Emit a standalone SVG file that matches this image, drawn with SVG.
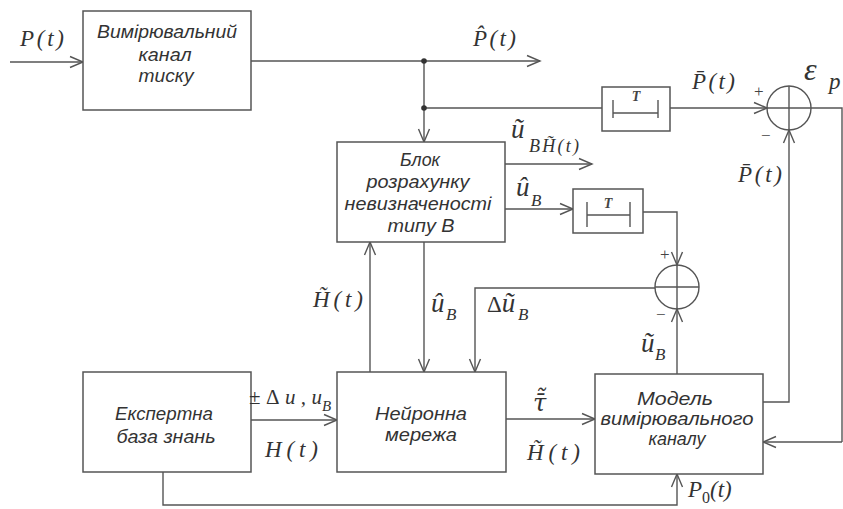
<svg xmlns="http://www.w3.org/2000/svg" width="843" height="509" viewBox="0 0 843 509">
<defs>
<style>
.box{fill:#fff;stroke:#555;stroke-width:1.5}
.ln{fill:none;stroke:#555;stroke-width:1.4}
.ar{marker-end:url(#a)}
.nt{font-family:"Liberation Sans",Arial,sans-serif;font-style:italic;font-size:18px;fill:#333;text-anchor:middle}
.m{font-family:"Liberation Serif","Times New Roman",serif;font-style:italic;font-size:23px;fill:#333}
.u{font-size:27px}
.sub{font-family:"Liberation Serif","Times New Roman",serif;font-style:italic;font-size:17px;fill:#333}
.up{font-style:normal}
.sg{font-family:"Liberation Serif","Times New Roman",serif;font-size:17px;fill:#444}
.dt{font-family:"Liberation Serif",serif;font-style:italic;font-weight:bold;font-size:14px;fill:#444;text-anchor:middle}
</style>
<marker id="a" markerUnits="userSpaceOnUse" markerWidth="14" markerHeight="12" refX="13" refY="5.5" orient="auto" overflow="visible">
<path d="M0,0 L13,5.5 L0,11" fill="none" stroke="#555" stroke-width="1.4"/>
</marker>
</defs>
<rect width="843" height="509" fill="#fff"/>

<g id="connectors">
<path class="ln ar" d="M10,62 H83"/>
<path class="ln ar" d="M251,61 H540"/>
<path class="ln" d="M424,61 V108 H602"/>
<path class="ln ar" d="M424,108 V142"/>
<path class="ln ar" d="M670,108 H767"/>
<path class="ln" d="M811,108 H842 V442"/>
<path class="ln ar" d="M842,442 H763"/>
<path class="ln ar" d="M763,402 H789 V130"/>
<path class="ln ar" d="M505,164 H592"/>
<path class="ln ar" d="M505,209 H573"/>
<path class="ln ar" d="M643,212 H677 V265"/>
<path class="ln ar" d="M677,374 V309"/>
<path class="ln ar" d="M655,288 H475 V372"/>
<path class="ln ar" d="M424,242 V372"/>
<path class="ln ar" d="M370,372 V242"/>
<path class="ln ar" d="M251,420 H337"/>
<path class="ln ar" d="M506,419 H595"/>
<path class="ln ar" d="M163,472 V505 H677 V474"/>
<circle cx="424" cy="61" r="2.8" fill="#333"/>
<circle cx="424" cy="108" r="2.8" fill="#333"/>
</g>

<g id="sum1">
<circle class="ln" cx="789" cy="108" r="22"/>
<path class="ln" d="M767,108 H811 M789,86 V130"/>
<text class="sg" x="754" y="97">+</text>
<text class="sg" x="761" y="141">−</text>
</g>

<g id="sum2">
<circle class="ln" cx="677" cy="287" r="22"/>
<path class="ln" d="M655,287 H699 M677,265 V309"/>
<text class="sg" x="660" y="260">+</text>
<text class="sg" x="656" y="320">−</text>
</g>

<g id="channel">
<rect class="box" x="83" y="11" width="168" height="99"/>
<text class="nt" x="167" y="38" textLength="140" lengthAdjust="spacingAndGlyphs">Вимірювальний</text>
<text class="nt" x="165" y="61" textLength="53" lengthAdjust="spacingAndGlyphs">канал</text>
<text class="nt" x="166" y="82" textLength="55" lengthAdjust="spacingAndGlyphs">тиску</text>
</g>

<g id="delay1">
<rect class="box" x="602" y="87" width="68" height="44"/>
<path class="ln" d="M613,100 V118 M658,100 V118 M613,113 H658"/>
<text class="dt" x="636" y="101">T</text>
</g>

<g id="delay2">
<rect class="box" x="573" y="189" width="70" height="44"/>
<path class="ln" d="M587,202 V227 M630,202 V227 M587,215 H630"/>
<text class="dt" x="608" y="208">T</text>
</g>

<g id="uncertainty">
<rect class="box" x="337" y="142" width="168" height="100"/>
<text class="nt" x="420" y="166" textLength="40" lengthAdjust="spacingAndGlyphs">Блок</text>
<text class="nt" x="418" y="188" textLength="103" lengthAdjust="spacingAndGlyphs">розрахунку</text>
<text class="nt" x="418" y="210" textLength="147" lengthAdjust="spacingAndGlyphs">невизначеності</text>
<text class="nt" x="421" y="232" textLength="67" lengthAdjust="spacingAndGlyphs">типу В</text>
</g>

<g id="expert">
<rect class="box" x="83" y="372" width="168" height="100"/>
<text class="nt" x="164" y="420" textLength="98" lengthAdjust="spacingAndGlyphs">Експертна</text>
<text class="nt" x="166" y="443" textLength="99" lengthAdjust="spacingAndGlyphs">база знань</text>
</g>

<g id="neural">
<rect class="box" x="337" y="372" width="169" height="100"/>
<text class="nt" x="421" y="420" textLength="92" lengthAdjust="spacingAndGlyphs">Нейронна</text>
<text class="nt" x="421" y="441" textLength="72" lengthAdjust="spacingAndGlyphs">мережа</text>
</g>

<g id="model">
<rect class="box" x="595" y="374" width="168" height="100"/>
<text class="nt" x="675" y="405" textLength="76" lengthAdjust="spacingAndGlyphs">Модель</text>
<text class="nt" x="677" y="425" textLength="153" lengthAdjust="spacingAndGlyphs">вимірювального</text>
<text class="nt" x="677" y="445" textLength="57" lengthAdjust="spacingAndGlyphs">каналу</text>
</g>

<g id="labels">
<text class="m" x="20" y="46" textLength="44">P(t)</text>
<text class="m" x="473" y="46" textLength="43">P̂(t)</text>
<text class="m" x="692" y="89" textLength="43">P̄(t)</text>
<text class="m" x="738" y="182" textLength="44">P̄(t)</text>
<text class="m" x="804" y="80" style="font-size:32px">ε</text>
<text class="m" x="829" y="89" style="font-size:23px">p</text>
<text class="m u" x="511" y="138">ũ</text>
<text class="sub" x="529" y="152" style="font-size:18px" textLength="50">BH̃(t)</text>
<text class="m u" x="516" y="196">û</text>
<text class="sub" x="531" y="206">B</text>
<text class="m" x="313" y="307" textLength="50">H̃(t)</text>
<text class="m u" x="431" y="312">û</text>
<text class="sub" x="446" y="320">B</text>
<text class="m" x="487" y="312"><tspan class="up">Δ</tspan><tspan class="u">ũ</tspan></text>
<text class="sub" x="518" y="320">B</text>
<text class="m u" x="641" y="352">ũ</text>
<text class="sub" x="655" y="360">B</text>
<text class="m" x="249" y="404" style="font-size:21px" textLength="73"><tspan class="up">±Δ</tspan>u,u</text>
<text class="sub" x="322" y="411" style="font-size:15px">B</text>
<text class="m" x="265" y="457" textLength="53">H(t)</text>
<text class="m" x="533" y="411" style="font-family:'DejaVu Serif',serif;font-size:24px">τ̄̃</text>
<text class="m" x="527" y="460" textLength="53">H̃(t)</text>
<text class="m" x="688" y="497">P<tspan class="up" dy="6" style="font-size:16px">0</tspan><tspan dy="-6">(t)</tspan></text>
</g>
</svg>
